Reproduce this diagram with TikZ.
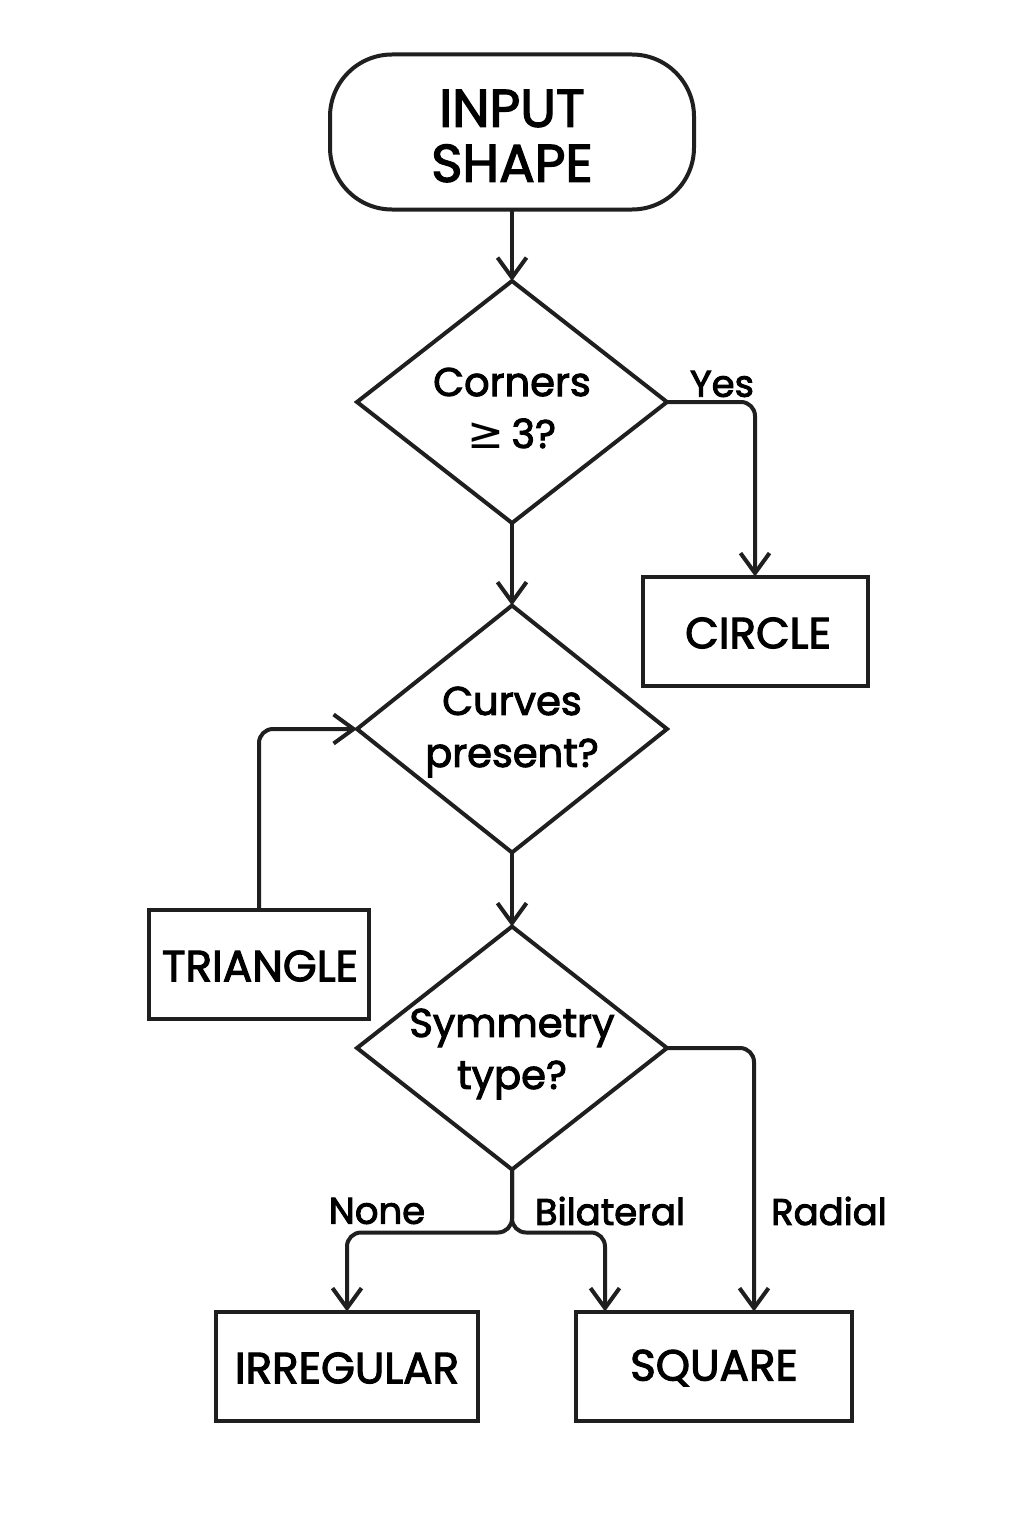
\documentclass[tikz,border=0pt]{standalone}
\usepackage{fontspec}
\setmainfont{Poppins}[FakeBold=2.5]
\newfontfamily\symf{DejaVu Sans}
\usetikzlibrary{shapes.geometric,arrows.meta,calc}
\begin{document}
\begin{tikzpicture}[x=0.5pt,y=-0.5pt,
  every node/.style={inner sep=0pt,outer sep=0pt},
  ln/.style={line width=2pt,draw=black!88},
  term/.style={ln,rectangle,rounded corners=31pt,minimum width=182pt,minimum height=77.5pt},
  dec/.style={ln,diamond,minimum width=155pt,minimum height=121pt},
  res/.style={ln,rectangle,minimum height=54.5pt},
  bigtxt/.style={align=center,font=\fontsize{26.5}{27.5}\selectfont},
  dtxt/.style={align=center,font=\fontsize{20}{26}\selectfont},
  btxt/.style={font=\fontsize{21.8}{24}\selectfont},
  lab/.style={font=\fontsize{18.5}{24}\selectfont},
  conn/.style={ln,rounded corners=7pt,-{Straight Barb[length=10pt,width=14.5pt,line width=2pt]}}
]
\useasboundingbox (0,0) rectangle (1024,1536);
\node[term] (inp) at (512,132) {};
\node[bigtxt] (inpt) at (512,136) {INPUT\\SHAPE};
\node[dec] (d1) at (512,402) {};
\node[dtxt] (d1t) at (512,408) {Corners\\{\symf\fontsize{22}{26}\selectfont ≥}\,3?};
\node[dec,minimum height=123.5pt] (d2) at (512,729) {};
\node[dtxt] (d2t) at (512,732) {Curves\\present?};
\node[dec,minimum height=121.5pt] (d3) at (512,1048) {};
\node[dtxt] (d3t) at (512,1054) {Symmetry\\type?};
\node[res,minimum width=112.5pt] (cir) at (755,631) {};
\node[btxt] (cirt) at (758,633) {CIRCLE};
\node[res,minimum width=110pt] (tri) at (259,964) {};
\node[btxt] (trit) at (260,966) {TRIANGLE};
\node[res,minimum width=131pt] (irr) at (347,1366) {};
\node[btxt] (irrt) at (347,1368) {IRREGULAR};
\node[res,minimum width=138pt] (sq) at (714,1366) {};
\node[btxt] (sqt) at (714,1368) {SQUARE};
\draw[conn] (inp.south) -- (d1.north);
\draw[conn] (d1.south) -- (d2.north);
\draw[conn] (d2.south) -- (d3.north);
\draw[conn] (d1.east) -| (cir.north);
\draw[conn] (tri.north) |- (d2.west);
\draw[conn] (d3.east) -| ([xshift=20pt]sq.north);
\draw[conn] (d3.south) -- ++(0,63) -| (irr.north);
\draw[conn] (d3.south) -- ++(0,63) -| ([xshift=-54.5pt]sq.north);
\node[lab] (lyes) at (722,384) {Yes};
\node[lab] (lnone) at (377,1211) {None};
\node[lab] (lbil) at (610,1211) {Bilateral};
\node[lab] (lrad) at (829,1211) {Radial};
\end{tikzpicture}
\end{document}
